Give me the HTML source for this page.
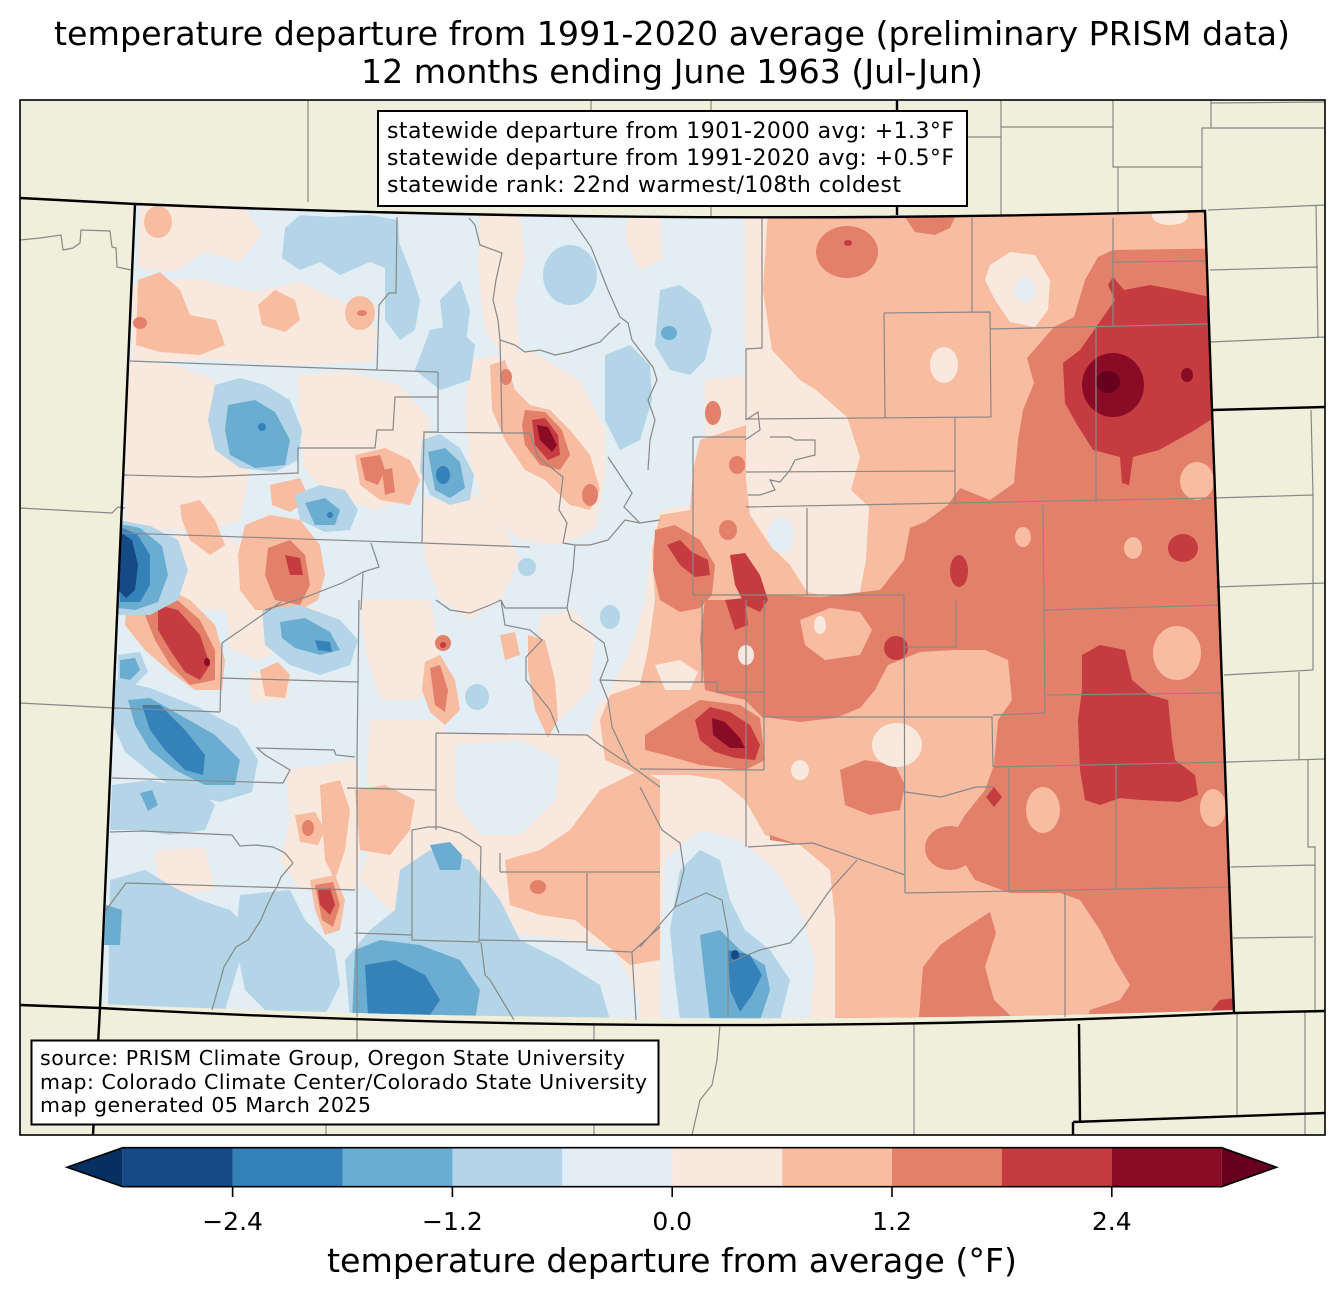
<!DOCTYPE html>
<html><head><meta charset="utf-8"><style>html,body{margin:0;padding:0;background:#fff}svg{display:block}</style></head>
<body>
<svg xmlns="http://www.w3.org/2000/svg" width="1344" height="1299" viewBox="0 0 1344 1299" font-family="'DejaVu Sans','Liberation Sans',sans-serif">
<rect width="1344" height="1299" fill="#fff"/>
<text x="672" y="45" font-size="33.3" text-anchor="middle" textLength="1236" lengthAdjust="spacingAndGlyphs">temperature departure from 1991-2020 average (preliminary PRISM data)</text>
<text x="672" y="83" font-size="33.3" text-anchor="middle" textLength="622" lengthAdjust="spacingAndGlyphs">12 months ending June 1963 (Jul-Jun)</text>
<defs>
<clipPath id="co"><path d="M135,204 Q680,226.5 1205,211 L1212,410 L1233,1010 Q680,1029 100,1004 Z"/></clipPath>
<clipPath id="fr"><rect x="20" y="100" width="1305" height="1035"/></clipPath>
</defs>
<rect x="20" y="100" width="1305" height="1035" fill="#efefdb"/>
<g clip-path="url(#co)">
<rect x="90" y="190" width="1170" height="860" fill="#f9e8de"/>
<polygon fill="#e3edf4" points="90,195 745,195 745,430 705,440 692,470 690,505 660,510 650,550 645,600 630,650 610,690 595,710 590,733 436,733 436,760 400,800 370,840 360,880 400,920 470,930 560,938 615,950 640,1000 640,1040 90,1040"/>
<g fill="#f9e8de">
<polygon points="140,205 245,208 262,235 240,262 205,252 175,272 138,268"/>
<polygon points="132,285 195,278 255,292 300,282 340,300 378,330 372,362 300,365 210,360 132,362"/>
<polygon points="130,362 175,365 215,380 215,420 200,470 170,480 122,476 126,420"/>
<polygon points="298,375 350,372 400,385 430,420 425,470 410,500 375,510 330,495 305,470 300,430"/>
<polygon points="215,430 250,470 240,520 210,530 180,530 125,528 124,480"/>
<polygon points="480,212 520,212 525,260 515,300 520,350 505,360 485,330 478,270"/>
<polygon points="470,360 530,350 580,380 605,430 605,480 595,530 560,545 520,540 485,510 470,460 465,410"/>
<polygon points="422,500 470,490 500,520 520,560 500,600 470,620 440,600 425,560"/>
<polygon points="176,533 230,538 262,560 255,600 230,610 190,610 170,580"/>
<polygon points="225,600 285,600 320,610 290,640 260,660 230,650"/>
<polygon points="250,672 290,675 288,700 250,702"/>
<polygon points="155,850 205,848 215,890 160,895"/>
<polygon points="285,770 355,760 362,800 358,890 300,890 280,860 290,820"/>
<polygon points="370,720 440,720 460,760 440,840 400,850 365,820"/>
<polygon points="163,945 220,945 225,1000 160,1005"/>
<polygon points="360,600 430,600 440,650 420,700 380,700 365,650"/>
<polygon points="705,380 745,375 746,425 705,440"/>
<polygon points="540,615 575,610 595,640 590,690 560,720 540,700 535,660"/>
<polygon points="628,215 660,215 662,260 640,270 625,240"/>
</g>
<polygon fill="#e3edf4" points="455,745 520,740 560,760 555,800 520,835 480,835 455,800"/>
<!-- R1 east -->
<polygon fill="#f8bca1" points="768,210 1250,200 1250,1040 835,1040 835,920 830,870 800,845 765,835 745,800 720,780 690,775 660,775 640,775 605,760 600,720 610,695 640,685 648,650 655,600 652,550 660,515 690,510 693,470 700,440 746,425 772,350 763,290"/>
<g fill="#f9e8de">
<polygon points="746,350 772,350 800,380 816,390 847,417 860,457 851,490 869,507 866,560 860,592 830,597 807,592 790,565 770,545 750,515 746,480"/>
<polygon points="655,665 680,660 698,672 690,690 665,690"/>
</g>
<ellipse cx="781" cy="535" rx="13" ry="18" fill="#e3edf4"/>
<!-- R2 -->
<polygon fill="#e3806a" points="1113,250 1250,248 1250,1040 835,1040 835,850 770,840 765,720 745,700 705,690 700,640 705,600 745,600 770,595 820,597 880,590 904,560 910,528 925,522 948,505 960,488 990,500 1014,483 1018,440 1023,410 1034,383 1027,358 1054,327 1074,317 1085,280 1098,257"/>
<g fill="#f8bca1">
<polygon points="764,717 800,722 835,718 860,708 875,690 888,665 920,652 955,650 985,650 1008,660 1012,700 998,720 994,765 985,790 965,815 950,840 975,880 1010,893 1060,893 1080,900 1100,930 1115,960 1130,985 1120,1000 1090,1010 1080,1040 835,1040 835,920 830,870 800,845 770,835 764,780"/>
<polygon points="800,620 830,608 860,612 872,630 860,655 825,660 805,645"/>
<ellipse cx="1177" cy="653" rx="24" ry="27"/>
<ellipse cx="1043" cy="810" rx="17" ry="23"/>
<ellipse cx="1213" cy="808" rx="13" ry="19"/>
<ellipse cx="1197" cy="481" rx="17" ry="19"/>
<ellipse cx="1133" cy="548" rx="9" ry="11"/>
<ellipse cx="1023" cy="537" rx="8" ry="10"/>
</g>
<g fill="#e3806a">
<polygon points="840,770 865,760 895,765 905,785 900,810 870,815 845,805"/>
<ellipse cx="950" cy="848" rx="25" ry="22"/>
<polygon points="919,1017 923,967 940,945 965,928 990,912 996,933 985,967 994,1000 1012,1017"/>
<ellipse cx="847" cy="252" rx="31" ry="26"/>
<polygon points="905,217 955,217 950,228 935,235 915,232"/>
</g>
<g fill="#f9e8de">
<ellipse cx="897" cy="745" rx="25" ry="22"/>
<ellipse cx="944" cy="365" rx="14" ry="18"/>
<polygon points="990,265 1010,252 1035,255 1050,280 1048,310 1035,327 1010,322 995,300 985,280"/>
<ellipse cx="1170" cy="216" rx="18" ry="9"/>
<ellipse cx="746" cy="655" rx="8" ry="10"/>
<ellipse cx="800" cy="770" rx="9" ry="10"/>
<ellipse cx="820" cy="625" rx="6" ry="9"/>
</g>
<ellipse cx="1025" cy="290" rx="10" ry="12" fill="#e3edf4"/>
<!-- west r1 -->
<g fill="#f8bca1">
<ellipse cx="158" cy="222" rx="14" ry="16"/>
<polygon points="138,280 160,272 180,290 190,315 216,320 225,345 200,355 160,352 136,345"/>
<polygon points="258,305 275,290 295,300 300,320 285,332 262,325"/>
<ellipse cx="360" cy="313" rx="15" ry="17"/>
<polygon points="355,455 385,448 410,460 420,480 410,505 380,500 360,485"/>
<polygon points="490,365 505,360 515,390 530,405 550,410 570,430 590,455 600,490 590,510 570,505 545,480 525,470 505,440 492,410"/>
<polygon points="180,505 200,500 215,520 225,545 210,555 190,540 182,520"/>
<polygon points="245,525 270,515 300,520 320,545 325,575 318,600 300,610 255,610 240,590 238,555"/>
<polygon points="270,485 300,478 310,500 290,512 272,505"/>
<polygon points="128,588 160,585 190,600 215,625 225,660 222,690 195,690 170,672 145,650 125,625"/>
<polygon points="260,670 278,662 290,675 285,698 265,696"/>
<polygon points="425,662 440,655 455,680 460,710 445,725 430,712 422,690"/>
<polygon points="528,635 545,640 555,680 558,720 548,738 535,710 528,670"/>
<polygon points="500,635 515,632 520,655 505,660"/>
<polygon points="505,860 540,850 570,830 600,790 640,770 660,780 660,960 630,965 600,940 575,920 540,915 510,905"/>
<polygon points="295,815 315,812 325,830 318,845 300,842"/>
<polygon points="320,785 340,780 350,810 345,850 335,880 325,860 322,820"/>
<polygon points="355,790 385,785 415,800 410,830 390,855 360,850"/>
<polygon points="310,880 335,875 345,900 340,930 325,935 315,910"/>
<polygon points="155,960 175,948 205,948 215,965 212,985 190,990 165,985 153,975"/>
<ellipse cx="145" cy="963" rx="7" ry="6"/>
</g>
<g fill="#e3806a">
<ellipse cx="140" cy="323" rx="7" ry="6"/>
<ellipse cx="362" cy="313" rx="5" ry="3"/>
<polygon points="360,458 380,455 385,470 378,485 365,480"/>
<polygon points="382,470 392,468 395,492 385,495"/>
<polygon points="525,410 545,412 562,430 570,455 560,470 540,465 525,445 522,425"/>
<ellipse cx="590" cy="495" rx="8" ry="11"/>
<ellipse cx="506" cy="377" rx="6" ry="8"/>
<polygon points="268,548 290,540 305,555 310,585 300,605 275,600 265,575"/>
<polygon points="150,595 175,598 200,620 215,650 215,680 190,685 170,665 155,640 145,615"/>
<polygon points="430,668 440,665 448,690 445,712 435,705"/>
<ellipse cx="443" cy="643" rx="8" ry="8"/>
<ellipse cx="538" cy="887" rx="8" ry="7"/>
<ellipse cx="308" cy="828" rx="6" ry="8"/>
<polygon points="315,885 333,882 340,905 333,927 322,920 318,900"/>
<polygon points="162,960 180,953 205,955 210,975 195,985 170,980"/>
<ellipse cx="713" cy="413" rx="8" ry="12"/>
<ellipse cx="737" cy="465" rx="8" ry="9"/>
<ellipse cx="728" cy="530" rx="9" ry="10"/>
<polygon points="655,530 675,525 700,540 715,565 712,595 700,608 680,612 660,600 653,570"/>
<polygon points="645,735 680,712 700,700 740,705 760,718 765,760 745,770 700,765 665,755 645,750"/>
</g>
<g fill="#c43c3f">
<polygon points="532,420 545,418 558,435 560,455 548,460 535,445"/>
<polygon points="285,555 300,558 303,575 290,575"/>
<polygon points="158,605 178,610 200,635 210,665 200,680 185,672 170,650 158,630"/>
<ellipse cx="443" cy="645" rx="3" ry="3"/>
<polygon points="318,890 330,888 335,905 330,915 320,905"/>
<polygon points="178,958 200,958 205,975 185,978"/>
<polygon points="730,555 745,553 760,575 768,600 760,612 745,605 735,585"/>
<polygon points="725,600 745,598 748,625 735,630"/>
<polygon points="667,545 680,540 692,552 708,560 710,575 695,577 680,565"/>
<polygon points="695,720 710,707 730,712 750,725 760,745 755,760 735,758 715,752 700,740"/>
<polygon points="1113,277 1124,290 1150,285 1177,290 1210,297 1215,417 1195,430 1159,450 1133,457 1129,485 1122,483 1120,457 1093,450 1076,423 1065,403 1063,363 1080,350 1115,300 1108,285"/>
<polygon points="1082,655 1100,645 1125,650 1132,680 1150,695 1168,700 1172,740 1175,760 1195,775 1198,795 1180,802 1140,800 1120,798 1100,805 1085,800 1080,770 1078,720 1082,690"/>
<ellipse cx="896" cy="648" rx="12" ry="12"/>
<ellipse cx="1183" cy="548" rx="15" ry="14"/>
<ellipse cx="959" cy="571" rx="9" ry="16"/>
<polygon points="994,787 1002,797 994,807 986,797"/>
<polygon points="1210,1012 1220,1000 1235,998 1235,1015"/>
<ellipse cx="848" cy="243" rx="4" ry="3"/>
</g>
<g fill="#8a0b25">
<polygon points="537,425 548,427 557,445 552,452 540,440"/>
<polygon points="712,718 725,722 740,738 745,748 730,748 713,735"/>
<ellipse cx="207" cy="662" rx="3" ry="4"/>
<ellipse cx="1113" cy="385" rx="31" ry="32"/>
<ellipse cx="1187" cy="375" rx="6" ry="7"/>
</g>
<ellipse cx="1108" cy="382" rx="12" ry="11" fill="#67001f"/>
<!-- east blue base -->
<polygon fill="#e3edf4" points="665,860 700,830 740,840 775,870 800,910 815,960 808,1040 660,1040 660,950"/>
<g fill="#b3d5e7">
<polygon points="285,228 300,215 330,217 370,215 398,220 400,250 390,270 370,262 340,275 320,262 300,270 282,258"/>
<polygon points="385,255 400,245 410,270 420,300 415,330 400,340 385,320"/>
<polygon points="440,300 460,280 470,310 465,350 445,345"/>
<polygon points="430,330 455,325 475,345 470,380 440,390 415,370"/>
<ellipse cx="570" cy="275" rx="27" ry="30"/>
<polygon points="605,355 630,345 650,365 652,400 640,440 620,450 605,420"/>
<polygon points="660,290 680,285 700,300 712,330 705,360 690,375 670,370 655,345"/>
<polygon points="215,385 240,378 265,385 290,400 302,430 298,460 275,472 240,468 215,450 208,420"/>
<polygon points="422,440 440,434 460,448 474,475 470,500 450,505 430,495 420,470"/>
<polygon points="295,495 320,485 345,490 358,510 350,530 325,532 300,520"/>
<polygon points="118,520 150,526 178,540 188,570 178,600 150,615 118,615"/>
<polygon points="118,655 140,652 148,672 135,685 118,683"/>
<polygon points="115,680 150,688 200,708 238,728 258,760 252,792 220,802 180,792 150,772 125,752 112,722"/>
<polygon points="262,610 300,605 340,620 358,640 350,665 320,675 290,665 265,645"/>
<polygon points="110,880 145,870 175,888 200,900 230,910 250,930 240,960 225,1010 108,1010"/>
<polygon points="240,895 290,890 305,920 335,950 340,985 325,1015 270,1015 245,990 235,940"/>
<polygon points="400,870 430,850 470,860 500,900 520,940 560,960 600,985 610,1020 350,1020 345,960 370,930 395,910"/>
<polygon points="112,785 150,780 200,790 215,805 205,830 170,835 140,830 110,830"/>
<ellipse cx="610" cy="617" rx="10" ry="12"/>
<ellipse cx="527" cy="567" rx="9" ry="9"/>
<ellipse cx="477" cy="697" rx="12" ry="13"/>
<polygon points="680,870 700,850 720,860 730,900 745,930 770,950 790,980 780,1020 680,1020 675,980 670,930"/>
</g>
<g fill="#6bacd1">
<polygon points="228,405 255,400 275,412 290,440 285,465 255,468 230,455 225,430"/>
<polygon points="428,452 445,448 460,462 465,488 450,498 435,490"/>
<polygon points="305,503 325,498 340,510 335,525 315,525"/>
<polygon points="120,524 140,528 162,546 168,575 158,602 135,610 118,608"/>
<polygon points="120,660 135,658 140,670 130,680 120,678"/>
<polygon points="128,700 150,698 180,715 215,735 240,760 235,785 205,785 175,770 150,750 135,725"/>
<polygon points="280,622 305,618 330,632 340,650 320,655 295,648 282,638"/>
<polygon points="106,905 122,910 120,945 104,945"/>
<polygon points="140,793 152,790 158,805 148,811"/>
<polygon points="355,950 380,940 420,945 460,960 480,990 475,1020 352,1020"/>
<polygon points="430,845 450,842 462,855 460,870 440,870"/>
<ellipse cx="669" cy="333" rx="8" ry="7"/>
<polygon points="700,935 720,930 740,950 765,965 770,990 760,1020 710,1020 705,980"/>
</g>
<g fill="#3581ba">
<polygon points="122,528 137,534 150,555 150,585 140,602 120,602"/>
<polygon points="142,705 160,705 185,730 205,755 203,775 185,770 165,750 150,730"/>
<polygon points="315,640 330,642 332,652 318,650"/>
<polygon points="365,965 395,960 425,975 440,1000 430,1015 368,1015"/>
<ellipse cx="262" cy="427" rx="4" ry="4"/>
<ellipse cx="443" cy="475" rx="7" ry="9"/>
<ellipse cx="330" cy="515" rx="3" ry="3"/>
<polygon points="728,950 750,955 762,975 752,995 740,1012 730,990"/>
</g>
<g fill="#154a86">
<polygon points="120,532 132,540 138,565 135,590 126,598 118,590"/>
<ellipse cx="735" cy="955" rx="4" ry="5"/>
</g>
</g>
<!-- county lines -->
<g fill="none" stroke="#888" stroke-width="1.2" clip-path="url(#fr)">
<path d="M130,361 L377,370 L438,372 M397,217 L396,293 L389,293 L379,305 L377,370 M200,477 L298,473 L298,448 L375,448 L377,430 L393,430 L395,397 L438,397 M438,372 L438,432 L424,432 L422,543 M424,432 L502,433 M124,475 L200,477 M122,533 L422,543 L530,547 M469,218 L475,225 L480,245 L502,253 L496,280 L493,300 L498,320 L500,340 L501,380 L502,433 M500,340 L515,345 L525,352 L540,350 L555,355 L570,352 L585,347 L600,342 L612,330 L620,323 M571,218 L591,247 L608,290 L620,317 L628,323 L632,340 L645,357 L653,367 L657,380 L648,400 L655,420 L650,440 L648,470 M762,218 L762,348 L746,349 L746,420 M746,419 L991,417 M972,218 L972,312 M884,313 L990,312 L991,417 M884,313 L885,418 M1113,218 L1113,325 M1113,262 L1205,261 M990,329 L1208,324 M1096,327 L1096,502 M955,418 L955,505 M693,437 L746,437 M693,437 L693,595 M746,472 L955,471 M746,507 L1212,498 M1043,505 L1045,713 M807,508 L807,595 M693,595 L904,595 L905,893 M956,600 L956,647 L905,647 M1045,610 L1220,605 M1047,695 L1222,693 M764,717 L992,717 L993,767 M993,715 L1045,713 M994,767 L1228,762 M1116,765 L1116,890 M1009,768 L1009,892 M905,792 L941,797 L976,787 L994,787 M905,893 L1231,887 M1065,893 L1065,1017 M748,847 L813,843 L905,875 M746,600 L746,847 M764,600 L764,770 M640,769 L764,770 M702,600 L702,682 M640,682 L717,682 L717,692 L764,692 M857,860 L830,890 L804,927 L790,943 L760,950 L728,963 L728,1017 M640,787 L662,830 L680,843 L684,870 L675,907 L706,893 L722,900 L728,933 L728,963 M675,907 L640,947 M114,708 L220,712 M220,712 L222,643 L281,602 M220,678 L359,682 M359,600 L357,757 M112,778 L283,783 L290,770 L265,755 L257,748 L334,750 L336,755 L355,757 M110,832 L142,831 L232,835 L240,846 L256,845 L273,847 L285,853 L293,863 M126,883 L355,890 M126,883 L106,910 M293,863 L281,877 L277,887 L273,893 L265,910 L261,920 L248,940 L236,947 L224,967 L212,1010 M357,757 L357,1017 M355,933 L412,935 M412,830 L412,940 L479,942 L481,847 L460,833 L440,827 L428,827 L412,830 M479,940 L587,942 M587,873 L587,950 L632,952 L660,927 M632,952 L636,1020 M500,872 L660,872 M500,853 L500,872 M436,733 L436,830 M436,733 L587,735 L600,745 L630,765 L660,787 M347,788 L436,790 M481,942 L485,975 L490,980 L514,1020 M502,433 L530,433 L538,457 L563,477 L559,510 L567,523 L563,543 L575,545 L590,545 L608,540 L625,520 L640,523 L660,520 M608,457 L632,493 L624,507 L640,523 M371,543 L379,567 L363,572 L361,610 M265,610 L306,597 L342,583 L363,572 M436,600 L450,610 L470,613 L490,605 L501,600 M567,608 L571,620 L591,633 L604,643 L608,660 L600,680 L608,700 L612,727 L630,765 M600,680 L660,682 M501,600 L505,625 L530,630 L542,640 L526,657 L526,680 L550,710 L559,733 M575,545 L573,570 L567,608 L505,608 L501,600 M746,420 L758,412 L760,430 L745,440 M770,437 L790,437 L795,440 L815,440 L815,455 L795,460 L790,470 L780,482 L770,480 L775,490 L760,495 L748,495"/>
<path d="M308,100 L308,202 M591,100 L591,111 M711,100 L711,111 M711,206 L711,216 M1001,100 L1001,216 M967,137 L1001,137 M1001,127 L1113,127 M1113,100 L1113,167 L1118,167 L1118,212 M1118,167 L1202,167 M1211,100 L1211,128 L1202,128 L1202,210 M1202,128 L1325,128 M1211,103 L1325,102 M1208,210 L1325,205 M1210,270 L1318,267 M1316,205 L1318,337 M1210,342 L1325,337 M1214,498 L1313,495 M1311,410 L1313,495 M1216,587 L1325,583 M1313,495 L1313,670 M1224,675 L1313,670 M1299,672 L1299,760 M1228,762 L1325,759 M1308,760 L1308,847 L1315,847 L1315,1013 M1231,867 L1315,865 M1233,938 L1313,937 M914,1023 L914,1135 M1237,1014 L1237,1116 M1305,1012 L1305,1135 M357,1020 L357,1041 M326,1124 L326,1135 M594,1025 L594,1135 M720,1025 L717,1060 L712,1085 L700,1100 L692,1135 M20,240 L40,238 L61,235 L63,250 L73,248 L80,243 L81,230 L110,231 L112,247 L116,248 L117,267 L131,270 M20,508 L112,513 L118,507 L125,508 M20,703 L115,708"/>
</g>
<!-- state borders -->
<g fill="none" stroke="#000" stroke-width="2.4" clip-path="url(#fr)">
<path d="M20,198 L135,204 M897,100 L897,215 M1212,410 L1325,407 M1234,1013 L1325,1011 M1079,1024 L1080,1121 M1073,1122 L1325,1113 M1073,1122 L1073,1135 M20,1005 L100,1008 M100,1008 L93,1135"/>
<path d="M135,204 Q680,226.5 1205,211 L1212,410 L1234,1013 Q680,1039.5 100,1008 Z"/>
</g>
<rect x="20" y="100" width="1305" height="1035" fill="none" stroke="#000" stroke-width="1.6"/>
<!-- info box -->
<rect x="378" y="111" width="589" height="95" fill="#fff" stroke="#000" stroke-width="2"/>
<g font-size="22">
<text x="387" y="138" textLength="567">statewide departure from 1901-2000 avg: +1.3°F</text>
<text x="387" y="165" textLength="567">statewide departure from 1991-2020 avg: +0.5°F</text>
<text x="387" y="192" textLength="514">statewide rank: 22nd warmest/108th coldest</text>
</g>
<rect x="31.5" y="1040.5" width="627" height="84" fill="#fff" stroke="#000" stroke-width="2"/>
<g font-size="20.5">
<text x="40" y="1065" textLength="585">source: PRISM Climate Group, Oregon State University</text>
<text x="40" y="1089" textLength="607">map: Colorado Climate Center/Colorado State University</text>
<text x="40" y="1112" textLength="331">map generated 05 March 2025</text>
</g>
<!-- colorbar -->
<polygon points="122.7,1147.7 67,1167.2 122.7,1186.7" fill="#053061"/>
<rect x="122.7" y="1147.7" width="110" height="39" fill="#154a86"/>
<rect x="232.6" y="1147.7" width="110" height="39" fill="#3581ba"/>
<rect x="342.5" y="1147.7" width="110" height="39" fill="#6bacd1"/>
<rect x="452.4" y="1147.7" width="110" height="39" fill="#b3d5e7"/>
<rect x="562.3" y="1147.7" width="110" height="39" fill="#e3edf4"/>
<rect x="672.2" y="1147.7" width="110" height="39" fill="#f9e8de"/>
<rect x="782.1" y="1147.7" width="110" height="39" fill="#f8bca1"/>
<rect x="892" y="1147.7" width="110" height="39" fill="#e3806a"/>
<rect x="1001.9" y="1147.7" width="110" height="39" fill="#c43c3f"/>
<rect x="1111.8" y="1147.7" width="109.9" height="39" fill="#8a0b25"/>
<polygon points="1221.7,1147.7 1276.5,1167.2 1221.7,1186.7" fill="#67001f"/>
<path d="M122.7,1147.7 L1221.7,1147.7 L1276.5,1167.2 L1221.7,1186.7 L122.7,1186.7 L67,1167.2 Z" fill="none" stroke="#000" stroke-width="1.6"/>
<path d="M232.6,1186.7 V1197 M452.4,1186.7 V1197 M672.2,1186.7 V1197 M892,1186.7 V1197 M1111.8,1186.7 V1197" stroke="#000" stroke-width="1.6"/>
<g font-size="25" text-anchor="middle">
<text x="232.6" y="1230">−2.4</text>
<text x="452.4" y="1230">−1.2</text>
<text x="672.2" y="1230">0.0</text>
<text x="892" y="1230">1.2</text>
<text x="1111.8" y="1230">2.4</text>
</g>
<text x="672" y="1272" font-size="33.3" text-anchor="middle" textLength="690" lengthAdjust="spacingAndGlyphs">temperature departure from average (°F)</text>
</svg>
</body></html>
